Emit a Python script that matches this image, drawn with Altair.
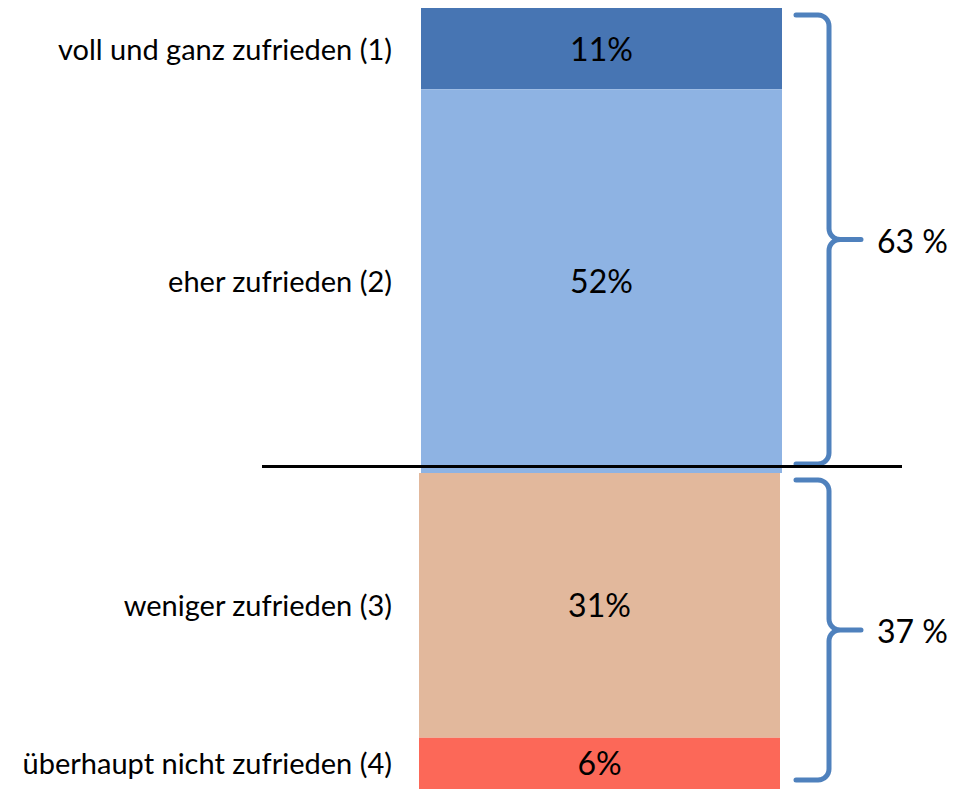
import math
import altair as alt
import pandas as pd

# ---- data ----
categories = [
    "voll und ganz zufrieden (1)",
    "eher zufrieden (2)",
    "weniger zufrieden (3)",
    "überhaupt nicht zufrieden (4)",
]
values = [11, 52, 31, 6]
value_labels = ["11%", "52%", "31%", "6%"]
groups = [0, 0, 1, 1]
group_totals = [63, 37]
group_total_labels = ["63 %", "37 %"]
colors = ["#4775b3", "#8eb3e3", "#e2b89c", "#fc6858"]

FONT = "Lato"
W = 940
heights = [465, 316]
bar_x = [(413, 774), (411, 772)]
BRACE = "#4f81bd"


def brace_points(total, height, inset_top=7, inset_bot=9,
                 x_end=788, x_v=821, x_tip=853, r=11, n=8):
    k = height / total
    yt = inset_top
    yb = height - inset_bot
    mid = (yt + yb) / 2
    pts = []
    cx, cy = x_v - r, yt + r
    for i in range(n + 1):
        t = (math.pi / 2) * i / n
        pts.append((cx + r * math.sin(t), cy - r * math.cos(t)))
    pts.insert(0, (x_end, yt))
    cx, cy = x_v + r, mid - r
    for i in range(n + 1):
        t = (math.pi / 2) * i / n
        pts.append((cx - r * math.cos(t), cy + r * math.sin(t)))
    pts.append((x_tip, mid))
    cx, cy = x_v + r, mid + r
    for i in range(n + 1):
        t = (math.pi / 2) * i / n
        pts.append((cx - r * math.sin(t), cy - r * math.cos(t)))
    cx, cy = x_v - r, yb - r
    for i in range(n + 1):
        t = (math.pi / 2) * i / n
        pts.append((cx + r * math.cos(t), cy + r * math.sin(t)))
    pts.append((x_end, yb))
    return pd.DataFrame({
        "x": [p[0] for p in pts],
        "y": [p[1] / k for p in pts],
        "order": list(range(len(pts))),
    }), mid / k


def panel(g):
    idx = [i for i, gg in enumerate(groups) if gg == g]
    total = group_totals[g]
    h = heights[g]
    rows = []
    start = 0
    for i in idx:
        end = start + values[i]
        rows.append({"cat": categories[i], "label": value_labels[i],
                     "start": start, "end": end, "mid": (start + end) / 2,
                     "color": colors[i]})
        start = end
    df = pd.DataFrame(rows)

    yscale = alt.Scale(domain=[0, total], reverse=True, nice=False, zero=False)
    xscale = alt.Scale(domain=[0, W], nice=False, zero=False)

    base = alt.Chart(df)
    bars = base.mark_rect().encode(
        x=alt.value(bar_x[g][0]), x2=alt.value(bar_x[g][1]),
        y=alt.Y("start:Q", scale=yscale, axis=None), y2="end:Q",
        color=alt.Color("color:N", scale=None),
    )
    vals = base.mark_text(font=FONT, fontSize=32, color="black",
                          align="center", baseline="middle", dy=2).encode(
        x=alt.value((bar_x[g][0] + bar_x[g][1]) / 2),
        y=alt.Y("mid:Q", scale=yscale, axis=None),
        text="label:N",
    )
    labs = base.mark_text(font=FONT, fontSize=29, color="black",
                          align="right", baseline="middle", dy=2).encode(
        x=alt.value(384),
        y=alt.Y("mid:Q", scale=yscale, axis=None),
        text="cat:N",
    )
    bdf, bmid = brace_points(total, h)
    brace = alt.Chart(bdf).mark_line(color=BRACE, strokeWidth=5,
                                     strokeCap="round", strokeJoin="round").encode(
        x=alt.X("x:Q", scale=xscale, axis=None),
        y=alt.Y("y:Q", scale=yscale, axis=None),
        order="order:Q",
    )
    tot = alt.Chart(pd.DataFrame({"t": [group_total_labels[g]], "y": [bmid]})).mark_text(
        font=FONT, fontSize=32, color="black", align="left", baseline="middle", dy=3
    ).encode(
        x=alt.value(869),
        y=alt.Y("y:Q", scale=yscale, axis=None),
        text="t:N",
    )
    layers = [bars, vals, labs, brace, tot]
    if g == 0:
        rule = alt.Chart(pd.DataFrame({"a": [0]})).mark_rule(
            color="black", strokeWidth=3
        ).encode(x=alt.value(254), x2=alt.value(894), y=alt.value(h - 6.5))
        layers.append(rule)
    return alt.layer(*layers).properties(width=W, height=h)


chart = alt.vconcat(panel(0), panel(1), spacing=0).properties(
    padding=0, background="white"
).configure_view(stroke=None)

chart.save("out.html", embed_options={"renderer": "svg", "actions": False})
